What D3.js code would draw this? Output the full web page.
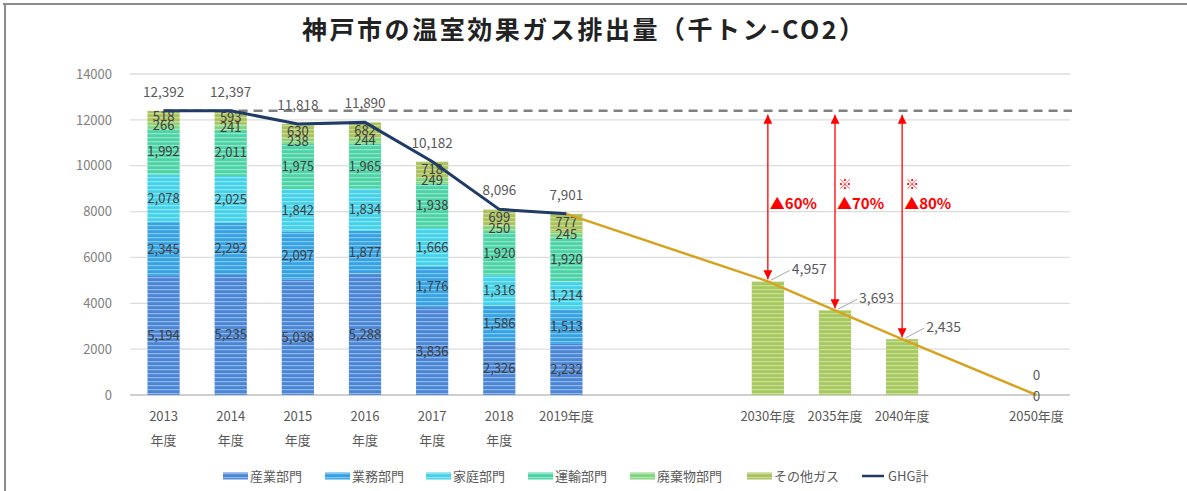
<!DOCTYPE html>
<html>
<head>
<meta charset="utf-8">
<script src="https://cdn.jsdelivr.net/npm/d3@7"></script>
<style>
  html, body { margin: 0; padding: 0; background: #fff; }
  svg { display: block; font-family: "Noto Sans CJK JP", "Noto Sans", sans-serif; }
</style>
</head>
<body>
<svg width="1187" height="491"></svg>
<script>
const width = 1187
const height = 491

// categories on the x axis (g1..g3 are empty slots)
const categories = ['2013', '2014', '2015', '2016', '2017', '2018', '2019', 'g1', 'g2', '2030', '2035', '2040', 'g3', '2050']
const xLabels = [['2013', '年度'], ['2014', '年度'], ['2015', '年度'], ['2016', '年度'], ['2017', '年度'], ['2018', '年度'], ['2019年度'], [], [], ['2030年度'], ['2035年度'], ['2040年度'], [], ['2050年度']]

const histYears = ['2013', '2014', '2015', '2016', '2017', '2018', '2019']
const sectors = ['産業部門', '業務部門', '家庭部門', '運輸部門', '廃棄物部門', 'その他ガス']
const industry = [5194, 5235, 5038, 5288, 3836, 2326, 2232]
const business = [2345, 2292, 2097, 1877, 1776, 1586, 1513]
const household = [2078, 2025, 1842, 1834, 1666, 1316, 1214]
const transport = [1992, 2011, 1975, 1965, 1938, 1920, 1920]
const waste = [266, 241, 238, 244, 249, 250, 245]
const otherGas = [518, 593, 630, 682, 718, 699, 777]
const ghgTotal = [12392, 12397, 11818, 11890, 10182, 8096, 7901]

const targetYears = ['2030', '2035', '2040', '2050']
const targetValues = [4957, 3693, 2435, 0]
const trendYears = ['2019', '2030', '2035', '2040', '2050']
const trendValues = [7901, 4957, 3693, 2435, 0]
const baseline = 12392
const reductionYears = ['2030', '2035', '2040']
const reductionLabels = ['▲60%', '▲70%', '▲80%']
const reductionNotes = ['', '※', '※']

const yTicks = [0, 2000, 4000, 6000, 8000, 10000, 12000, 14000]

const sectorColors = ['#4a86d6', '#35a2e4', '#44d2ea', '#4cd4a6', '#84d47e', '#a9c25c']
const targetColor = '#a7c95e'

const svg = d3.select('svg')

// frame lines
svg.append('line').attr('x1', 3).attr('x2', width).attr('y1', 4).attr('y2', 4)
  .attr('stroke', '#8c8c8c').attr('stroke-width', 2)
svg.append('line').attr('x1', 5).attr('x2', 5).attr('y1', 4).attr('y2', height)
  .attr('stroke', '#8c8c8c').attr('stroke-width', 2)

// striped fills
const defs = svg.append('defs')
function stripe(id, color) {
  const p = defs.append('pattern').attr('id', id)
    .attr('patternUnits', 'userSpaceOnUse').attr('width', 8).attr('height', 4)
  p.append('rect').attr('width', 8).attr('height', 4).attr('fill', color)
  p.append('rect').attr('y', 1).attr('width', 8).attr('height', 1.2)
    .attr('fill', '#fff').attr('opacity', 0.4)
  return `url(#${id})`
}
const sectorFills = sectorColors.map((c, i) => stripe('s' + i, c))
const targetFill = stripe('tg', targetColor)

const x = d3.scaleBand().domain(categories).range([130, 1070])
  .paddingInner(0.52).paddingOuter(0.26)
const cx = d => x(d) + x.bandwidth() / 2
const y = d3.scaleLinear().domain([0, 14000]).range([395, 74])

// title
svg.append('text')
  .attr('x', 583).attr('y', 39)
  .attr('text-anchor', 'middle')
  .attr('font-size', 25).attr('font-weight', 'bold').attr('fill', '#222')
  .attr('textLength', 562).attr('lengthAdjust', 'spacing')
  .text('神戸市の温室効果ガス排出量（千トン-CO2）')

// grid
svg.append('g').selectAll('line').data(yTicks.slice(1)).join('line')
  .attr('x1', 130).attr('x2', 1070)
  .attr('y1', d => y(d)).attr('y2', d => y(d))
  .attr('stroke', '#dcdcdc').attr('stroke-width', 1.3)

const yAxis = svg.append('g').attr('transform', 'translate(130,0)')
  .call(d3.axisLeft(y).tickValues(yTicks).tickFormat(d3.format('d')).tickSize(0).tickPadding(18))
yAxis.select('.domain').remove()
yAxis.selectAll('text').attr('font-size', 13).attr('fill', '#7f7f7f')
  .attr('font-family', '"Noto Sans CJK JP", sans-serif')

// x axis line
svg.append('line').attr('x1', 130).attr('x2', 1070).attr('y1', y(0)).attr('y2', y(0))
  .attr('stroke', '#bfbfbf').attr('stroke-width', 1.5)

// x labels
const xl = svg.append('g').selectAll('text').data(categories.map((c, i) => ({ c, lines: xLabels[i] }))).join('text')
  .attr('x', d => cx(d.c)).attr('y', 421)
  .attr('text-anchor', 'middle').attr('font-size', 13).attr('fill', '#595959')
xl.selectAll('tspan').data(d => d.lines.map(t => ({ t, x: cx(d.c) }))).join('tspan')
  .attr('x', d => d.x).attr('dy', (d, i) => i ? 24 : 0).text(d => d.t)

// stacked bars
const rows = histYears.map((yr, i) => ({
  year: yr,
  '産業部門': industry[i], '業務部門': business[i], '家庭部門': household[i],
  '運輸部門': transport[i], '廃棄物部門': waste[i], 'その他ガス': otherGas[i]
}))
const series = d3.stack().keys(sectors)(rows)

const layers = svg.append('g').selectAll('g').data(series).join('g')
  .attr('fill', (d, i) => sectorFills[i])
layers.selectAll('rect').data(d => d).join('rect')
  .attr('x', d => x(d.data.year)).attr('width', x.bandwidth())
  .attr('y', d => y(d[1])).attr('height', d => y(d[0]) - y(d[1]))

const fmt = d3.format(',')
svg.append('g').selectAll('g').data(series).join('g')
  .selectAll('text').data(d => d.map(s => ({ s, v: s[1] - s[0] }))).join('text')
  .attr('x', d => cx(d.s.data.year))
  .attr('y', d => y((d.s[0] + d.s[1]) / 2) + 4.5)
  .attr('text-anchor', 'middle').attr('font-size', 13).attr('fill', '#404040')
  .text(d => fmt(d.v))

// target bars
svg.append('g').selectAll('rect').data(targetYears.map((c, i) => ({ c, v: targetValues[i] }))).join('rect')
  .attr('x', d => x(d.c)).attr('width', x.bandwidth())
  .attr('y', d => y(d.v)).attr('height', d => y(0) - y(d.v))
  .attr('fill', targetFill)

// baseline dashed line
svg.append('line')
  .attr('x1', cx('2013')).attr('x2', 1072)
  .attr('y1', y(baseline)).attr('y2', y(baseline))
  .attr('stroke', '#808080').attr('stroke-width', 2.5).attr('stroke-dasharray', '9,6')

// trend line
const trendPts = trendYears.map((c, i) => [cx(c), y(trendValues[i])])
svg.append('path').attr('d', d3.line()(trendPts))
  .attr('fill', 'none').attr('stroke', '#d6a320').attr('stroke-width', 2.5)

// GHG total line
const ghgPts = histYears.map((c, i) => [cx(c), y(ghgTotal[i])])
svg.append('path').attr('d', d3.line()(ghgPts))
  .attr('fill', 'none').attr('stroke', '#1f3b66').attr('stroke-width', 3)

svg.append('g').selectAll('text').data(histYears.map((c, i) => ({ c, v: ghgTotal[i] }))).join('text')
  .attr('x', d => cx(d.c)).attr('y', d => y(d.v) - 14)
  .attr('text-anchor', 'middle').attr('font-size', 13.5).attr('fill', '#595959')
  .text(d => fmt(d.v))

// reduction arrows
defs.append('marker').attr('id', 'ah').attr('viewBox', '0 0 10 10')
  .attr('refX', 10).attr('refY', 5).attr('markerWidth', 10).attr('markerHeight', 9)
  .attr('markerUnits', 'userSpaceOnUse').attr('orient', 'auto-start-reverse')
  .append('path').attr('d', 'M0,0L10,5L0,10Z').attr('fill', '#ff0000')

const red = reductionYears.map((c, i) => ({ c, v: targetValues[i], lab: reductionLabels[i], note: reductionNotes[i] }))
svg.append('g').selectAll('line').data(red).join('line')
  .attr('x1', d => cx(d.c)).attr('x2', d => cx(d.c))
  .attr('y1', y(baseline) + 4).attr('y2', d => y(d.v) - 2)
  .attr('stroke', '#ff0000').attr('stroke-width', 1.3)
  .attr('marker-start', 'url(#ah)').attr('marker-end', 'url(#ah)')
svg.append('g').selectAll('text').data(red).join('text')
  .attr('x', d => cx(d.c) + 2).attr('y', 209)
  .attr('font-size', 15).attr('font-weight', 'bold').attr('fill', '#ff0000')
  .text(d => d.lab)
svg.append('g').selectAll('text').data(red.filter(d => d.note)).join('text')
  .attr('x', d => cx(d.c) + 3).attr('y', 189)
  .attr('font-size', 14).attr('fill', '#ff0000')
  .text(d => d.note)

// target labels with leaders
const tl = targetYears.slice(0, 3).map((c, i) => ({ c, v: targetValues[i] }))
svg.append('g').selectAll('line').data(tl).join('line')
  .attr('x1', d => cx(d.c) + 3).attr('y1', d => y(d.v) - 1)
  .attr('x2', d => cx(d.c) + 22).attr('y2', d => y(d.v) - 11)
  .attr('stroke', '#a6a6a6').attr('stroke-width', 1)
svg.append('g').selectAll('text').data(tl).join('text')
  .attr('x', d => cx(d.c) + 24).attr('y', d => y(d.v) - 7)
  .attr('font-size', 14).attr('fill', '#595959')
  .text(d => fmt(d.v))

// 2050 zero labels
svg.append('text').attr('x', cx('2050')).attr('y', y(0) - 15)
  .attr('text-anchor', 'middle').attr('font-size', 13.5).attr('fill', '#595959').text(fmt(targetValues[3]))
svg.append('text').attr('x', cx('2050')).attr('y', y(0) + 6)
  .attr('text-anchor', 'middle').attr('font-size', 13.5).attr('fill', '#595959').text(fmt(trendValues[4]))

// legend
const legendItems = sectors.map((s, i) => ({ name: s, fill: sectorFills[i] }))
  .concat([{ name: 'GHG計', line: true }])
const legendX = [223, 325, 426, 528, 630, 747, 862]
const lg = svg.append('g').selectAll('g').data(legendItems).join('g')
  .attr('transform', (d, i) => `translate(${legendX[i]},476)`)
lg.filter(d => !d.line).append('rect')
  .attr('x', 0).attr('y', -3.5).attr('width', 25).attr('height', 7).attr('fill', d => d.fill)
lg.filter(d => d.line).append('line')
  .attr('x1', 0).attr('x2', 22).attr('y1', 0).attr('y2', 0)
  .attr('stroke', '#1f3b66').attr('stroke-width', 2.5)
lg.append('text').attr('x', d => d.line ? 26 : 27).attr('y', 4.5)
  .attr('font-size', 13).attr('fill', '#595959').text(d => d.name)
</script>
</body>
</html>
